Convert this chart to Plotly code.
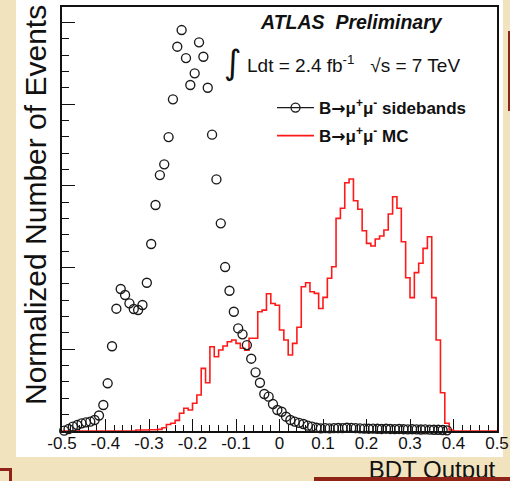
import plotly.graph_objects as go

# ---- data -------------------------------------------------------------
# BDT output binning: 100 bins of width 0.01 between -0.5 and 0.5
bin_lo = -0.5
bin_w = 0.01

# B->mumu sidebands (normalized), one value per bin starting at -0.5
sideband_vals = [
    0.004, 0.024, 0.053, 0.073, 0.094, 0.106, 0.114, 0.135, 0.190, 0.318,
    0.584, 1.037, 1.497, 1.738, 1.665, 1.563, 1.493, 1.481, 1.542, 1.815,
    2.289, 2.766, 3.133, 3.264, 3.598, 4.060, 4.704, 4.908, 4.565, 4.235,
    4.378, 4.757, 4.581, 4.202, 3.627, 3.080, 2.542, 2.007, 1.717, 1.460,
    1.256, 1.183, 1.052, 0.885, 0.718, 0.591, 0.453, 0.420, 0.330, 0.257,
    0.236, 0.175, 0.135, 0.114, 0.100, 0.086, 0.065, 0.053, 0.040, 0.033,
    0.035, 0.033, 0.035, 0.037, 0.035, 0.040, 0.038, 0.035, 0.033, 0.030,
    0.028, 0.030, 0.027, 0.025, 0.028, 0.025, 0.023, 0.025, 0.022, 0.020,
    0.022, 0.020, 0.018, 0.020, 0.017, 0.015, 0.015, 0.012, 0.008,
]

# B->mumu signal MC (normalized), one value per bin starting at -0.5
mc_vals = [
    0, 0, 0, 0, 0, 0, 0, 0, 0, 0,
    0, 0, 0, 0, 0, 0, 0, 0.012, 0.012, 0.012,
    0.015, 0.015, 0.020, 0.040, 0.080, 0.094, 0.130, 0.217, 0.278, 0.257,
    0.339, 0.440, 0.767, 0.591, 1.032, 0.909, 0.991, 1.040, 1.093, 1.114,
    1.073, 1.012, 0.990, 1.135, 1.135, 1.460, 1.480, 1.680, 1.560, 1.540,
    1.236, 1.114, 0.930, 1.073, 1.270, 1.766, 1.815, 1.705, 1.685, 1.500,
    1.636, 1.869, 2.011, 2.603, 2.726, 3.039, 3.084, 2.819, 2.714, 2.452,
    2.297, 2.264, 2.350, 2.387, 2.460, 2.656, 2.868, 2.726, 2.317, 1.876,
    1.632, 1.938, 2.053, 2.236, 2.378, 1.632, 1.114, 0.469, 0.094, 0.012,
    0, 0, 0, 0, 0, 0, 0, 0, 0, 0,
]

x_tick_vals = [-0.5, -0.4, -0.3, -0.2, -0.1, 0.0, 0.1, 0.2, 0.3, 0.4, 0.5]
x_tick_text = ["-0.5", "-0.4", "-0.3", "-0.2", "-0.1", "0", "0.1", "0.2", "0.3", "0.4", "0.5"]

# ---- derived arrays ---------------------------------------------------
sb_x = [round(bin_lo + bin_w * (i + 0.5), 4) for i in range(len(sideband_vals))]
mc_edges = [round(bin_lo + bin_w * k, 4) for k in range(len(mc_vals) + 1)]
mc_y = mc_vals + [mc_vals[-1]]

W, H = 510, 481
FONT = "Liberation Sans, Arial, Helvetica, sans-serif"
BEIGE = "#F2E3BF"
DARKRED = "#8F2318"
ARROW = '<span style="font-family:DejaVu Sans">→</span>'

fig = go.Figure()

# signal MC histogram outline
fig.add_trace(go.Scatter(
    x=mc_edges, y=mc_y, mode="lines", line=dict(color="#FF1A1A", width=1.6, shape="hv"),
    name=f"<b>B{ARROW}μ<sup>+</sup>μ<sup>-</sup> MC</b>", legendgroup="b", legendrank=2,
    cliponaxis=False, hoverinfo="skip",
))

# sideband points
fig.add_trace(go.Scatter(
    x=sb_x, y=sideband_vals, mode="markers",
    marker=dict(symbol="circle-open", size=9, color="#1A1A1A", line=dict(width=1.35)),
    showlegend=False, cliponaxis=False, hoverinfo="skip",
))
# legend entry for the sidebands (line + marker symbol)
fig.add_trace(go.Scatter(
    x=[None], y=[None], mode="lines+markers",
    line=dict(color="#1A1A1A", width=1.2),
    marker=dict(symbol="circle-open", size=9, color="#1A1A1A", line=dict(width=1.3)),
    name=f"<b>B{ARROW}μ<sup>+</sup>μ<sup>-</sup> sidebands</b>", legendgroup="a", legendrank=1,
))

# x-axis caption on a full-figure pixel overlay so the slide bar can sit on top
fig.add_trace(go.Scatter(
    x=[432], y=[472], mode="text", text=["BDT Output"],
    textfont=dict(family=FONT, size=24, color="#111"),
    xaxis="x2", yaxis="y2", showlegend=False, cliponaxis=False, hoverinfo="skip",
))

x0d, x1d = 62 / W, 497 / W
y0d, y1d = 1 - 431 / H, 1 - 7 / H

fig.update_layout(
    width=W, height=H, autosize=False,
    margin=dict(l=0, r=0, t=0, b=0, autoexpand=False),
    paper_bgcolor=BEIGE, plot_bgcolor="rgba(0,0,0,0)",
    font=dict(family=FONT, color="#111"),
    xaxis=dict(
        domain=[x0d, x1d], range=[-0.5, 0.5], anchor="y",
        tickmode="array", tickvals=x_tick_vals, ticktext=x_tick_text,
        ticks="inside", ticklen=12, tickwidth=1.3, tickcolor="#111",
        minor=dict(tickmode="linear", tick0=-0.5, dtick=0.02, ticks="inside",
                   ticklen=6, tickwidth=1.1, tickcolor="#111"),
        tickfont=dict(family=FONT, size=17, color="#111"),
        ticklabelstandoff=-4,
        showline=True, linecolor="#111", linewidth=1.6, mirror=True,
        showgrid=False, zeroline=False, layer="below traces", automargin=False,
    ),
    yaxis=dict(
        domain=[y0d, y1d], range=[0, 5.19], anchor="x",
        tickmode="linear", tick0=0, dtick=1, showticklabels=False,
        ticks="inside", ticklen=13, tickwidth=1.3, tickcolor="#111",
        minor=dict(tickmode="linear", tick0=0, dtick=0.2, ticks="inside",
                   ticklen=7, tickwidth=1.1, tickcolor="#111"),
        showline=True, linecolor="#111", linewidth=1.6, mirror=True,
        showgrid=False, zeroline=False, layer="below traces", automargin=False,
    ),
    xaxis2=dict(domain=[0, 1], range=[0, W], visible=False, anchor="y2",
                fixedrange=True, automargin=False),
    yaxis2=dict(domain=[0, 1], range=[H, 0], visible=False, anchor="x2",
                fixedrange=True, automargin=False),
    legend=dict(
        x=272 / W, y=1 - 90 / H, xanchor="left", yanchor="top",
        bgcolor="rgba(0,0,0,0)", borderwidth=0, itemwidth=37,
        font=dict(family=FONT, size=17, color="#111"),
        traceorder="grouped", tracegroupgap=3,
    ),
    showlegend=True,
)

# slide background panel and decorations
fig.add_shape(type="rect", xref="paper", yref="paper", layer="below",
              x0=16 / W, x1=503 / W, y0=1 - 457 / H, y1=1.02,
              fillcolor="white", line=dict(width=0))
for (ax0, ax1, ay0, ay1) in [(314, 512, 477, 484), (-2, 12, 468, 471), (9, 12, 468, 484),
                             (508, 512, 31, 111), (508, 512, 31, 33)]:
    fig.add_shape(type="rect", xref="paper", yref="paper", layer="above",
                  x0=ax0 / W, x1=ax1 / W, y0=1 - ay1 / H, y1=1 - ay0 / H,
                  fillcolor=DARKRED, line=dict(width=0))

# axis title and labels
fig.add_annotation(xref="paper", yref="paper", x=36 / W, y=1 - 205 / H,
                   text="Normalized Number of Events", textangle=-90, showarrow=False,
                   font=dict(family=FONT, size=30, color="#111"),
                   xanchor="center", yanchor="middle")
fig.add_annotation(xref="paper", yref="paper", x=258 / W, y=1 - 22 / H,
                   text="<b><i>ATLAS\u00a0\u00a0Preliminary</i></b>", showarrow=False,
                   font=dict(family=FONT, size=19.5, color="#111"),
                   xanchor="left", yanchor="middle")
fig.add_annotation(xref="paper", yref="paper", x=233 / W, y=1 - 62 / H,
                   text="∫", showarrow=False,
                   font=dict(family="DejaVu Sans, sans-serif", size=34, color="#111"),
                   xanchor="center", yanchor="middle")
fig.add_annotation(xref="paper", yref="paper", x=245 / W, y=1 - 64 / H,
                   text="Ldt = 2.4 fb<sup>-1</sup>\u00a0\u00a0\u00a0√s = 7 TeV", showarrow=False,
                   font=dict(family=FONT, size=19, color="#111"),
                   xanchor="left", yanchor="middle")

fig.write_html("out.html")
